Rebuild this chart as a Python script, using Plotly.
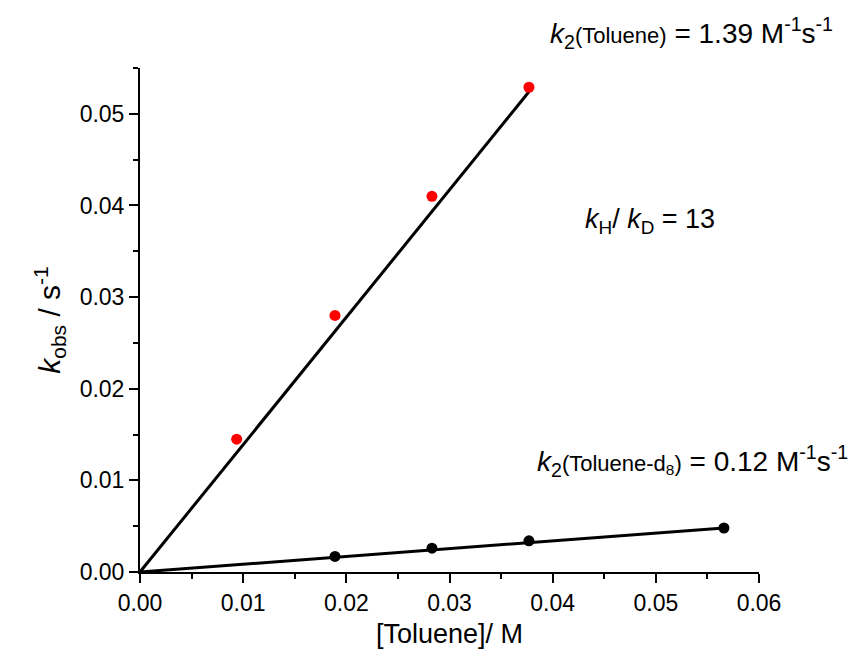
import plotly.graph_objects as go

# [Toluene] concentrations (M) and observed rate constants (s^-1)
conc_h = [0.00937, 0.0189, 0.0283, 0.0377]
kobs_h = [0.0145, 0.0280, 0.0410, 0.0529]

conc_d = [0.0189, 0.0283, 0.0377, 0.0566]
kobs_d = [0.0017, 0.0026, 0.0034, 0.0048]

# slopes of the linear fits through the origin (M^-1 s^-1)
slope_h = 1.39
slope_d = 0.085

x_ticks = [0.00, 0.01, 0.02, 0.03, 0.04, 0.05, 0.06]
y_ticks = [0.00, 0.01, 0.02, 0.03, 0.04, 0.05]

FONT = "Liberation Sans, Arial, sans-serif"

fig = go.Figure()

# fit lines
xh_end = max(conc_h)
xd_end = max(conc_d)
fig.add_trace(go.Scatter(x=[0, xh_end], y=[0, slope_h * xh_end], mode="lines",
                         line=dict(color="black", width=3), hoverinfo="skip"))
fig.add_trace(go.Scatter(x=[0, xd_end], y=[0, slope_d * xd_end], mode="lines",
                         line=dict(color="black", width=3), hoverinfo="skip"))

# data points
fig.add_trace(go.Scatter(x=conc_h, y=kobs_h, mode="markers",
                         marker=dict(color="#ff0000", size=11, line=dict(width=0))))
fig.add_trace(go.Scatter(x=conc_d, y=kobs_d, mode="markers",
                         marker=dict(color="black", size=11, line=dict(width=0))))

axis_common = dict(
    showgrid=False, zeroline=False, showline=True, linecolor="black", linewidth=2,
    ticks="outside", ticklen=9, tickwidth=2, tickcolor="black",
    tickfont=dict(family=FONT, size=23, color="black"),
    minor=dict(ticks="outside", ticklen=5, tickwidth=2, tickcolor="black"),
)

fig.update_xaxes(range=[0, 0.06], tickvals=x_ticks, ticktext=[f"{v:.2f}" for v in x_ticks],
                 minor_dtick=0.005, **axis_common,
                 title=dict(text="[Toluene]/ M", font=dict(family=FONT, size=27, color="black"),
                            standoff=10))
fig.update_yaxes(range=[0, 0.055], tickvals=y_ticks, ticktext=[f"{v:.2f}" for v in y_ticks],
                 minor_dtick=0.005, **axis_common,
                 title=dict(text="<i>k</i><sub>obs</sub> / s<sup>-1</sup>",
                            font=dict(family=FONT, size=30, color="black"), standoff=10))

L, R, T, B = 140, 108, 68, 87
W, H = 867, 659
pw, ph = W - L - R, H - T - B


def px(xp):
    return (xp - L) / pw


def py(yp):
    return (H - B - yp) / ph


small = "<span style='font-size:22px'>"
fig.add_annotation(
    x=px(548), y=py(33), xref="paper", yref="paper", xanchor="left", yanchor="middle",
    text=f"<i>k</i><sub>2</sub>{small}(Toluene)</span> = {slope_h:.2f} M<sup>-1</sup>s<sup>-1</sup>",
    showarrow=False, font=dict(family=FONT, size=28, color="black"))
fig.add_annotation(
    x=px(583), y=py(221), xref="paper", yref="paper", xanchor="left", yanchor="middle",
    text="<i>k</i><sub>H</sub>/ <i>k</i><sub>D</sub> = 13",
    showarrow=False, font=dict(family=FONT, size=27, color="black"))
fig.add_annotation(
    x=px(535), y=py(461), xref="paper", yref="paper", xanchor="left", yanchor="middle",
    text=f"<i>k</i><sub>2</sub>{small}(Toluene-d<sub>8</sub>)</span> = 0.12 M<sup>-1</sup>s<sup>-1</sup>",
    showarrow=False, font=dict(family=FONT, size=28, color="black"))

fig.update_layout(
    width=W, height=H, margin=dict(l=L, r=R, t=T, b=B),
    plot_bgcolor="white", paper_bgcolor="white", showlegend=False,
)

fig.write_html("out.html")
